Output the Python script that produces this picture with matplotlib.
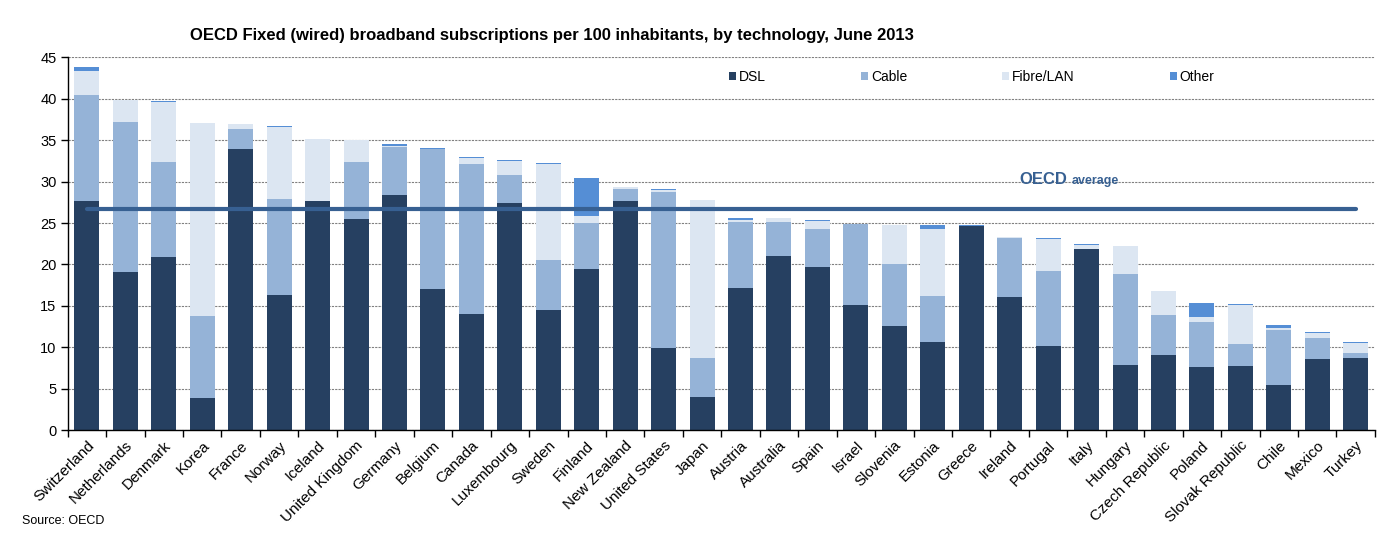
import matplotlib
matplotlib.use("Agg")
import matplotlib.pyplot as plt
from matplotlib.patches import Patch
import numpy as np

countries = ["Switzerland", "Netherlands", "Denmark", "Korea", "France", "Norway", "Iceland",
             "United Kingdom", "Germany", "Belgium", "Canada", "Luxembourg", "Sweden", "Finland",
             "New Zealand", "United States", "Japan", "Austria", "Australia", "Spain", "Israel",
             "Slovenia", "Estonia", "Greece", "Ireland", "Portugal", "Italy", "Hungary",
             "Czech Republic", "Poland", "Slovak Republic", "Chile", "Mexico", "Turkey"]
dsl = [27.6, 19.1, 20.9, 3.9, 33.9, 16.3, 27.6, 25.5, 28.4, 17.0, 14.0, 27.4, 14.5, 19.4,
       27.6, 9.9, 4.0, 17.1, 21.0, 19.7, 15.1, 12.6, 10.6, 24.6, 16.1, 10.1, 21.85, 7.85,
       9.05, 7.6, 7.7, 5.4, 8.6, 8.7]
cable = [12.8, 18.1, 11.5, 9.9, 2.4, 11.6, 0.0, 6.9, 5.8, 16.9, 18.1, 3.4, 6.0, 5.55,
         1.45, 18.9, 4.7, 8.0, 4.1, 4.6, 9.8, 7.4, 5.6, 0.0, 7.1, 9.1, 0.0, 11.0,
         4.8, 5.45, 2.65, 6.65, 2.55, 0.6]
fibre = [3.0, 2.7, 7.2, 23.3, 0.6, 8.65, 7.5, 2.6, 0.1, 0.0, 0.7, 1.7, 11.6, 0.85,
         0.25, 0.15, 19.1, 0.3, 0.5, 1.0, 0.0, 4.7, 8.1, 0.0, 0.1, 3.9, 0.5, 3.4,
         3.0, 0.6, 4.7, 0.25, 0.6, 1.2]
other = [0.4, 0.0, 0.12, 0.0, 0.0, 0.12, 0.0, 0.0, 0.25, 0.15, 0.12, 0.12, 0.12, 4.6,
         0.0, 0.2, 0.0, 0.15, 0.0, 0.12, 0.0, 0.12, 0.5, 0.12, 0.0, 0.12, 0.12, 0.0,
         0.0, 1.7, 0.12, 0.35, 0.12, 0.12]
oecd_average = 26.7
series_names = ["DSL", "Cable", "Fibre/LAN", "Other"]
colors = ["#264061", "#95B3D7", "#DCE6F2", "#558ED5"]
line_color = "#376092"

plt.rcParams['font.family'] = ['Liberation Sans', 'DejaVu Sans']

fig = plt.figure(figsize=(13.81, 5.41), dpi=100)
ax = fig.add_axes([0.049, 0.205, 0.9466, 0.689])

x = np.arange(len(countries))
bottom = np.zeros(len(countries))
for vals, c, name in zip([dsl, cable, fibre, other], colors, series_names):
    v = np.array(vals)
    ax.bar(x, v, bottom=bottom, width=0.65, color=c, label=name, zorder=2, linewidth=0)
    bottom += v

ax.plot([x[0], x[-1]], [oecd_average, oecd_average], color=line_color, lw=3.0,
        solid_capstyle='round', zorder=3)

t = ax.text(24.25, 29.65, "OECD", color=line_color, fontsize=12, fontweight='bold',
            ha='left', va='baseline', zorder=4)
ax.annotate("average", xy=(1, 0), xycoords=t, xytext=(3, 0), textcoords='offset points',
            color=line_color, fontsize=9, fontweight='bold', ha='left', va='bottom', zorder=4)

ax.set_xlim(-0.5, len(countries) - 0.5)
ax.set_ylim(0, 45)
ax.set_yticks(np.arange(0, 46, 5))
ax.tick_params(axis='y', labelsize=10.5, direction='out', length=5, width=1, pad=3)
ax.set_xticks(np.arange(-0.5, len(countries), 1.0))
ax.set_xticklabels([])
ax.set_xticks(x, minor=True)
ax.set_xticklabels(countries, minor=True, rotation=45, ha='right', rotation_mode='anchor',
                   fontsize=11)
ax.tick_params(axis='x', which='major', direction='out', length=5, width=1)
ax.tick_params(axis='x', which='minor', length=0, pad=6)

ax.yaxis.grid(True, color='#808080', linestyle=(0, (2, 1)), linewidth=0.8, zorder=0)
ax.set_axisbelow(True)
for s in ['top', 'right']:
    ax.spines[s].set_visible(False)
ax.spines['left'].set_linewidth(1)
ax.spines['bottom'].set_linewidth(1)

handles = [Patch(facecolor=c, edgecolor='none', label=n) for c, n in zip(colors, series_names)]
fig.legend(handles=handles, loc='center left', bbox_to_anchor=(0.524, 0.857), ncol=4,
           frameon=False, fontsize=10, handlelength=0.5, handleheight=0.5,
           handletextpad=0.2, columnspacing=6.85, borderaxespad=0)

fig.text(0.4, 0.935, "OECD Fixed (wired) broadband subscriptions per 100 inhabitants, by technology, June 2013",
         ha='center', va='center', fontsize=12, fontweight='bold')
fig.text(0.016, 0.037, "Source: OECD", ha='left', va='center', fontsize=9)

fig.savefig("out.png", dpi=100)
